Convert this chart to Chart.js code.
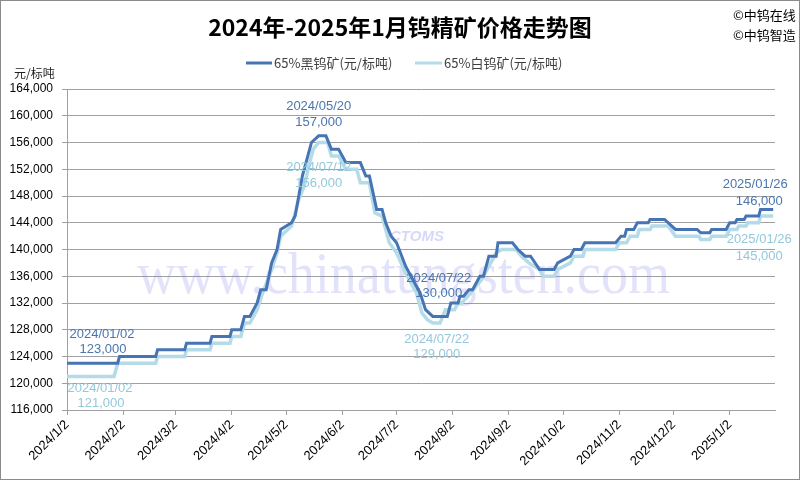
<!DOCTYPE html>
<html>
<head>
<meta charset="utf-8">
<script src="https://cdn.jsdelivr.net/npm/chart.js@4.4.1/dist/chart.umd.min.js"></script>
<style>
  html, body { margin: 0; padding: 0; background: #fff; }
  canvas { display: block; }
</style>
</head>
<body>
<canvas id="chart" width="800" height="480"></canvas>
<script>
// 65%黑钨矿 price change points (元/标吨)
const blackDates = [
  "2024-01-02","2024-01-30","2024-01-31","2024-02-20","2024-02-21","2024-03-07","2024-03-08","2024-03-21","2024-03-22","2024-04-01",
  "2024-04-02","2024-04-07","2024-04-09","2024-04-12","2024-04-16","2024-04-18","2024-04-21","2024-04-24","2024-04-27","2024-04-29",
  "2024-05-05","2024-05-07","2024-05-09","2024-05-11","2024-05-14","2024-05-16","2024-05-20","2024-05-24","2024-05-27","2024-05-31",
  "2024-06-04","2024-06-12","2024-06-15","2024-06-17","2024-06-21","2024-06-24","2024-06-26","2024-06-29","2024-07-02","2024-07-07",
  "2024-07-12","2024-07-15","2024-07-18","2024-07-22","2024-07-30","2024-08-01","2024-08-05","2024-08-06","2024-08-08","2024-08-11",
  "2024-08-13","2024-08-17","2024-08-19","2024-08-22","2024-08-26","2024-08-27","2024-09-04","2024-09-07","2024-09-11","2024-09-14",
  "2024-09-19","2024-09-27","2024-09-29","2024-10-06","2024-10-08","2024-10-12","2024-10-14","2024-10-31","2024-11-03","2024-11-05",
  "2024-11-06","2024-11-10","2024-11-12","2024-11-18","2024-11-19","2024-11-27","2024-12-03","2024-12-15","2024-12-17","2024-12-22",
  "2024-12-23","2024-12-31","2025-01-02","2025-01-05","2025-01-06","2025-01-10","2025-01-11","2025-01-18","2025-01-19","2025-01-26"
];
const blackPrices = [
  123000,123000,124000,124000,125000,125000,126000,126000,127000,127000,
  128000,128000,130000,130000,132000,134000,134000,138000,140000,143000,
  144000,145000,148000,151000,154000,156000,157000,157000,155000,155000,
  153000,153000,151000,151000,146000,146000,144000,142000,141000,137500,
  135000,133500,131000,130000,130000,132000,132000,133000,133000,134000,
  134000,136000,136000,139000,139000,141000,141000,140000,139000,139000,
  137000,137000,138000,139000,140000,140000,141000,141000,142000,142000,
  143000,143000,144000,144000,144500,144500,143000,143000,142500,142500,
  143000,143000,144000,144000,144500,144500,145000,145000,146000,146000
];

// 65%白钨矿 price change points (元/标吨)
const whiteDates = [
  "2024-01-02","2024-01-28","2024-01-30","2024-02-20","2024-02-21","2024-03-07","2024-03-08","2024-03-21","2024-03-22","2024-04-01",
  "2024-04-02","2024-04-07","2024-04-09","2024-04-12","2024-04-16","2024-04-19","2024-04-24","2024-04-27","2024-04-29","2024-05-05",
  "2024-05-09","2024-05-12","2024-05-15","2024-05-17","2024-05-20","2024-05-25","2024-05-27","2024-05-31","2024-06-04","2024-06-10",
  "2024-06-12","2024-06-17","2024-06-20","2024-06-24","2024-06-28","2024-07-02","2024-07-07","2024-07-13","2024-07-16","2024-07-19",
  "2024-07-22","2024-07-26","2024-07-29","2024-08-03","2024-08-05","2024-08-07","2024-08-12","2024-08-18","2024-08-23","2024-08-26",
  "2024-08-29","2024-09-06","2024-09-09","2024-09-13","2024-09-19","2024-09-21","2024-09-27","2024-09-29","2024-10-06","2024-10-08",
  "2024-10-13","2024-10-14","2024-10-31","2024-11-02","2024-11-06","2024-11-08","2024-11-12","2024-11-13","2024-11-19","2024-11-20",
  "2024-11-29","2024-12-03","2024-12-16","2024-12-17","2024-12-22","2024-12-23","2024-12-31","2025-01-02","2025-01-06","2025-01-07",
  "2025-01-11","2025-01-12","2025-01-18","2025-01-19","2025-01-26"
];
const whitePrices = [
  121000,121000,123000,123000,124000,124000,125000,125000,126000,126000,
  127000,127000,129000,129000,131000,133500,137000,139500,142000,143500,
  147500,149500,153000,155000,156000,156000,154000,154000,152000,152000,
  150000,150000,145500,145000,141000,139500,136500,133500,130500,129500,
  129000,129000,131000,131000,132000,132000,133500,135500,138000,139500,
  140000,140000,139000,138000,137000,136000,136000,137000,138000,139000,
  139000,140000,140000,141000,141000,142000,142000,143000,143000,143500,
  143500,142000,142000,141500,141500,142000,142000,143000,143000,143500,
  143500,144000,144000,145000,145000
];

// x axis ticks
const tickDates = ["2024-01-02","2024-02-02","2024-03-02","2024-04-02","2024-05-02","2024-06-02","2024-07-02",
  "2024-08-02","2024-09-02","2024-10-02","2024-11-02","2024-12-02","2025-01-02"];
const tickLabels = ["2024/1/2","2024/2/2","2024/3/2","2024/4/2","2024/5/2","2024/6/2","2024/7/2",
  "2024/8/2","2024/9/2","2024/10/2","2024/11/2","2024/12/2","2025/1/2"];

// data labels written on the chart
const blackNoteDates = ["2024-01-02","2024-05-20","2024-07-22","2025-01-26"];
const blackNoteTitles = ["2024/01/02","2024/05/20","2024/07/22","2025/01/26"];
const whiteNoteDates = ["2024-01-02","2024-05-20","2024-07-22","2025-01-26"];
const whiteNoteTitles = ["2024/01/02","2024/07/12","2024/07/22","2025/01/26"];

const BASE = Date.UTC(2024, 0, 2);
const dayOf = (s) => {
  const [y, m, d] = s.split("-").map(Number);
  return (Date.UTC(y, m - 1, d) - BASE) / 86400000;
};
const toPoints = (dates, prices) => dates.map((d, i) => ({ x: dayOf(d), y: prices[i] }));
const fmt = (v) => v.toLocaleString("en-US");

const DARK = "#4674b4";
const LIGHT = "#b4dbe8";
const DARK_TEXT = "#4a76ae";
const LIGHT_TEXT = "#93c8db";
const CJK = '"Noto Sans CJK SC", sans-serif';
const LATIN = '"Liberation Sans", Arial, sans-serif';

// [dxTitle, dyTitle, dxValue, dyValue] relative to the labelled point
const blackOffsets = [[35, -29, 36, -14], [0, -29, 0, -13], [6, -38, 6, -23], [-18, -25, -14, -8]];
const whiteOffsets = [[33, 12, 34, 27], [0, 25, 0, 41], [4, 16, 4, 31], [-14, 23, -14, 40]];

const decor = {
  id: "decor",
  beforeDraw(chart) {
    const ctx = chart.ctx;
    ctx.save();
    ctx.fillStyle = "#fff";
    ctx.fillRect(0, 0, chart.width, chart.height);
    ctx.restore();
  },
  beforeDatasetsDraw(chart) {
    // faint site watermark
    const ctx = chart.ctx;
    ctx.save();
    ctx.font = '60px "Liberation Serif", serif';
    const text = "www.chinatungsten.com";
    const w = ctx.measureText(text).width;
    ctx.translate(137, 293);
    ctx.scale(533 / w, 1);
    ctx.fillStyle = "rgba(110,110,235,0.2)";
    ctx.fillText(text, 0, 0);
    ctx.restore();
    ctx.save();
    ctx.font = 'italic bold 15px "Liberation Sans", sans-serif';
    ctx.fillStyle = "rgba(110,110,235,0.28)";
    ctx.fillText("CTOMS", 390, 241);
    ctx.restore();
  },
  afterDraw(chart) {
    const ctx = chart.ctx;
    ctx.save();
    // title
    ctx.fillStyle = "#000";
    ctx.textAlign = "center";
    ctx.textBaseline = "middle";
    ctx.font = "bold 23px " + CJK;
    ctx.fillText("2024年-2025年1月钨精矿价格走势图", 400, 27);

    ctx.textAlign = "left";
    ctx.font = "13px " + CJK;
    ctx.fillText("©中钨在线", 733, 15);
    ctx.fillText("©中钨智造", 733, 35);

    ctx.font = "12px " + CJK;
    ctx.fillStyle = "#222";
    ctx.fillText("元/标吨", 14, 73);

    // legend
    ctx.font = "13px " + CJK;
    ctx.fillStyle = "#404040";
    ctx.lineWidth = 3;
    ctx.strokeStyle = DARK;
    ctx.beginPath(); ctx.moveTo(246, 63); ctx.lineTo(272, 63); ctx.stroke();
    ctx.fillText(chart.data.datasets[0].label, 274, 63);
    ctx.strokeStyle = LIGHT;
    ctx.beginPath(); ctx.moveTo(415, 63); ctx.lineTo(442, 63); ctx.stroke();
    ctx.fillText(chart.data.datasets[1].label, 444, 63);

    // data labels
    const xs = chart.scales.x, ys = chart.scales.y;
    ctx.textAlign = "center";
    ctx.font = "13px " + LATIN;
    const notes = (dates, titles, prices, seriesDates, offs, color) => {
      ctx.fillStyle = color;
      dates.forEach((d, i) => {
        const v = prices[seriesDates.indexOf(d)];
        const px = xs.getPixelForValue(dayOf(d));
        const py = ys.getPixelForValue(v);
        const o = offs[i];
        ctx.fillText(titles[i], px + o[0], py + o[1]);
        ctx.fillText(fmt(v), px + o[2], py + o[3]);
      });
    };
    notes(blackNoteDates, blackNoteTitles, blackPrices, blackDates, blackOffsets, DARK_TEXT);
    notes(whiteNoteDates, whiteNoteTitles, whitePrices, whiteDates, whiteOffsets, LIGHT_TEXT);

    // outer frame
    ctx.strokeStyle = "#8a8a8a";
    ctx.lineWidth = 1;
    ctx.strokeRect(0.5, 0.5, chart.width - 1, chart.height - 1);
    ctx.restore();
  }
};

new Chart(document.getElementById("chart"), {
  type: "line",
  data: {
    datasets: [
      {
        label: "65%黑钨矿(元/标吨)",
        data: toPoints(blackDates, blackPrices),
        borderColor: DARK,
        borderWidth: 3,
        pointRadius: 0,
        tension: 0,
        fill: false,
      },
      {
        label: "65%白钨矿(元/标吨)",
        data: toPoints(whiteDates, whitePrices),
        borderColor: LIGHT,
        borderWidth: 3.5,
        pointRadius: 0,
        tension: 0,
        fill: false,
      },
    ],
  },
  options: {
    responsive: false,
    animation: false,
    devicePixelRatio: 1,
    layout: { padding: { top: 89, right: 25, left: 0, bottom: 0 } },
    plugins: {
      legend: { display: false },
      title: { display: false },
      tooltip: { enabled: false },
    },
    scales: {
      x: {
        type: "linear",
        min: 0,
        max: 391,
        afterBuildTicks: (scale) => {
          scale.ticks = tickDates.map((d) => ({ value: dayOf(d) }));
        },
        afterFit: (scale) => { scale.height = 70; },
        ticks: {
          autoSkip: false,
          minRotation: 45,
          maxRotation: 45,
          color: "#000",
          padding: 2,
          font: { family: "Liberation Sans", size: 13 },
          callback: (value, index) => tickLabels[index],
        },
        grid: { drawOnChartArea: false, drawTicks: true, tickLength: 5, color: "#a0a0a0" },
        border: { color: "#a0a0a0" },
      },
      y: {
        min: 116000,
        max: 164000,
        afterFit: (scale) => { scale.width = 67; },
        ticks: {
          stepSize: 4000,
          color: "#000",
          padding: 9,
          font: { family: "Liberation Sans", size: 12 },
          callback: (value) => fmt(value),
        },
        grid: { color: "#a0a0a0", tickLength: 5 },
        border: { color: "#a0a0a0" },
      },
    },
  },
  plugins: [decor],
});
</script>
</body>
</html>
